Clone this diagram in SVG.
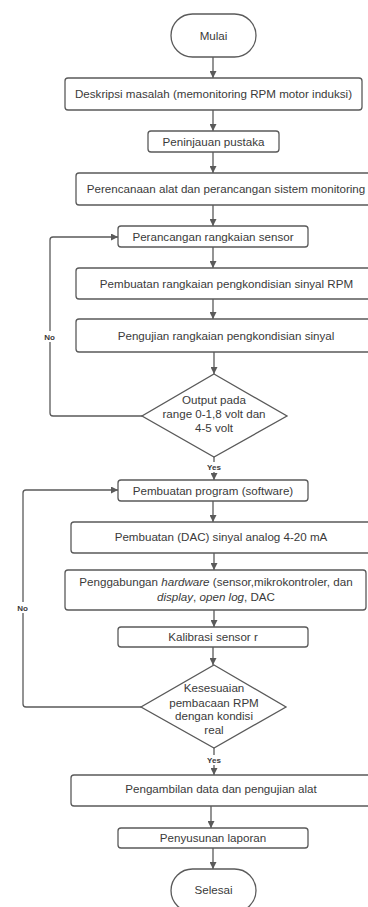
<svg xmlns="http://www.w3.org/2000/svg" width="368" height="907" viewBox="0 0 368 907">
<defs>
<style>
.n{fill:#fff;stroke:#5a5a5a;stroke-width:1.3}
.t{font-family:"Liberation Sans",Arial,sans-serif;font-size:11.6px;fill:#3a3a3a;text-anchor:middle}
.c{fill:none;stroke:#5a5a5a;stroke-width:1.3;stroke-linejoin:round}
.l{font-family:"Liberation Sans",Arial,sans-serif;font-size:8px;font-weight:bold;fill:#3a3a3a;text-anchor:middle}
.i{font-style:italic}
</style>
<marker id="a" viewBox="0 0 8 8" refX="8" refY="4" markerWidth="7" markerHeight="7" markerUnits="userSpaceOnUse" orient="auto">
<path d="M0,0 L8,4 L0,8 z" fill="#5a5a5a"/>
</marker>
</defs>
<rect width="368" height="907" fill="#fff"/>
<g id="connectors">
<path class="c" d="M213,57 V78" marker-end="url(#a)"/>
<path class="c" d="M213,110 V131" marker-end="url(#a)"/>
<path class="c" d="M213,152 V173" marker-end="url(#a)"/>
<path class="c" d="M213,205 V226" marker-end="url(#a)"/>
<path class="c" d="M213,247 V268" marker-end="url(#a)"/>
<path class="c" d="M213,299 V319" marker-end="url(#a)"/>
<path class="c" d="M214,352 V374" marker-end="url(#a)"/>
<path class="c" d="M142,416 H53 Q50,416 50,413 V240 Q50,237 53,237 H118" marker-end="url(#a)"/>
<path class="c" d="M214,457 V480" marker-end="url(#a)"/>
<path class="c" d="M213,501 V522" marker-end="url(#a)"/>
<path class="c" d="M214,553 V570" marker-end="url(#a)"/>
<path class="c" d="M214,610 V627" marker-end="url(#a)"/>
<path class="c" d="M213,647 V665" marker-end="url(#a)"/>
<path class="c" d="M141,707 H26 Q23,707 23,704 V493 Q23,490 26,490 H118" marker-end="url(#a)"/>
<path class="c" d="M214,748 V775" marker-end="url(#a)"/>
<path class="c" d="M211,806 V828" marker-end="url(#a)"/>
<path class="c" d="M213,848 V869" marker-end="url(#a)"/>
<rect x="40" y="331" width="19" height="11" fill="#fff"/>
<text class="l" x="49.5" y="339.5">No</text>
<rect x="13" y="602" width="19" height="11" fill="#fff"/>
<text class="l" x="22.5" y="610.5">No</text>
<rect x="204" y="462" width="20" height="10" fill="#fff"/>
<text class="l" x="214" y="470">Yes</text>
<rect x="204" y="755" width="20" height="10" fill="#fff"/>
<text class="l" x="214" y="763">Yes</text>
</g>
<g id="mulai"><rect class="n" x="171" y="14" width="85" height="43" rx="21.5"/><text class="t" x="213.5" y="39.5">Mulai</text></g>
<g id="deskripsi"><rect class="n" x="65" y="78" width="297" height="32" rx="3"/><text class="t" x="213.5" y="98">Deskripsi masalah (memonitoring RPM motor induksi)</text></g>
<g id="peninjauan"><rect class="n" x="148" y="131" width="131" height="21" rx="3"/><text class="t" x="213.5" y="145.5">Peninjauan pustaka</text></g>
<g id="perencanaan"><rect class="n" x="76" y="173" width="300" height="32" rx="3"/><text class="t" x="226" y="193">Perencanaan alat dan perancangan sistem monitoring</text></g>
<g id="perancangan"><rect class="n" x="118" y="226" width="190" height="21" rx="3"/><text class="t" x="213" y="240.5">Perancangan rangkaian sensor</text></g>
<g id="pembuatan-rangkaian"><rect class="n" x="76" y="268" width="301" height="31" rx="3"/><text class="t" x="226.5" y="287.5">Pembuatan rangkaian pengkondisian sinyal RPM</text></g>
<g id="pengujian"><rect class="n" x="76" y="319" width="301" height="33" rx="3"/><text class="t" x="226" y="340">Pengujian rangkaian pengkondisian sinyal</text></g>
<g id="keputusan1"><path class="n" d="M214,374 L287,416 L214,457 L142,416 Z"/><text class="t" x="214" y="404">Output pada</text><text class="t" x="214" y="418">range 0-1,8 volt dan</text><text class="t" x="214" y="432">4-5 volt</text></g>
<g id="pembuatan-program"><rect class="n" x="118" y="480" width="190" height="21" rx="3"/><text class="t" x="213" y="495">Pembuatan program (software)</text></g>
<g id="pembuatan-dac"><rect class="n" x="71" y="522" width="300" height="31" rx="3"/><text class="t" x="221" y="541">Pembuatan (DAC) sinyal analog 4-20 mA</text></g>
<g id="penggabungan"><rect class="n" x="65" y="570" width="301" height="40" rx="3"/><text class="t" x="216" y="586">Penggabungan <tspan class="i">hardware</tspan> (sensor,mikrokontroler, dan</text><text class="t" x="216" y="601"><tspan class="i">display</tspan>, <tspan class="i">open log</tspan>, DAC</text></g>
<g id="kalibrasi"><rect class="n" x="118" y="627" width="190" height="20" rx="3"/><text class="t" x="213" y="641">Kalibrasi sensor r</text></g>
<g id="keputusan2"><path class="n" d="M214,665 L286,707 L214,748 L141,707 Z"/><text class="t" x="214" y="692">Kesesuaian</text><text class="t" x="214" y="707">pembacaan RPM</text><text class="t" x="214" y="720">dengan kondisi</text><text class="t" x="214" y="734">real</text></g>
<g id="pengambilan"><rect class="n" x="71" y="775" width="300" height="31" rx="3"/><text class="t" x="221" y="793">Pengambilan data dan pengujian alat</text></g>
<g id="penyusunan"><rect class="n" x="118" y="828" width="190" height="20" rx="3"/><text class="t" x="213" y="842">Penyusunan laporan</text></g>
<g id="selesai"><rect class="n" x="171" y="869" width="85" height="43" rx="21.5"/><text class="t" x="213.5" y="894">Selesai</text></g>
</svg>
